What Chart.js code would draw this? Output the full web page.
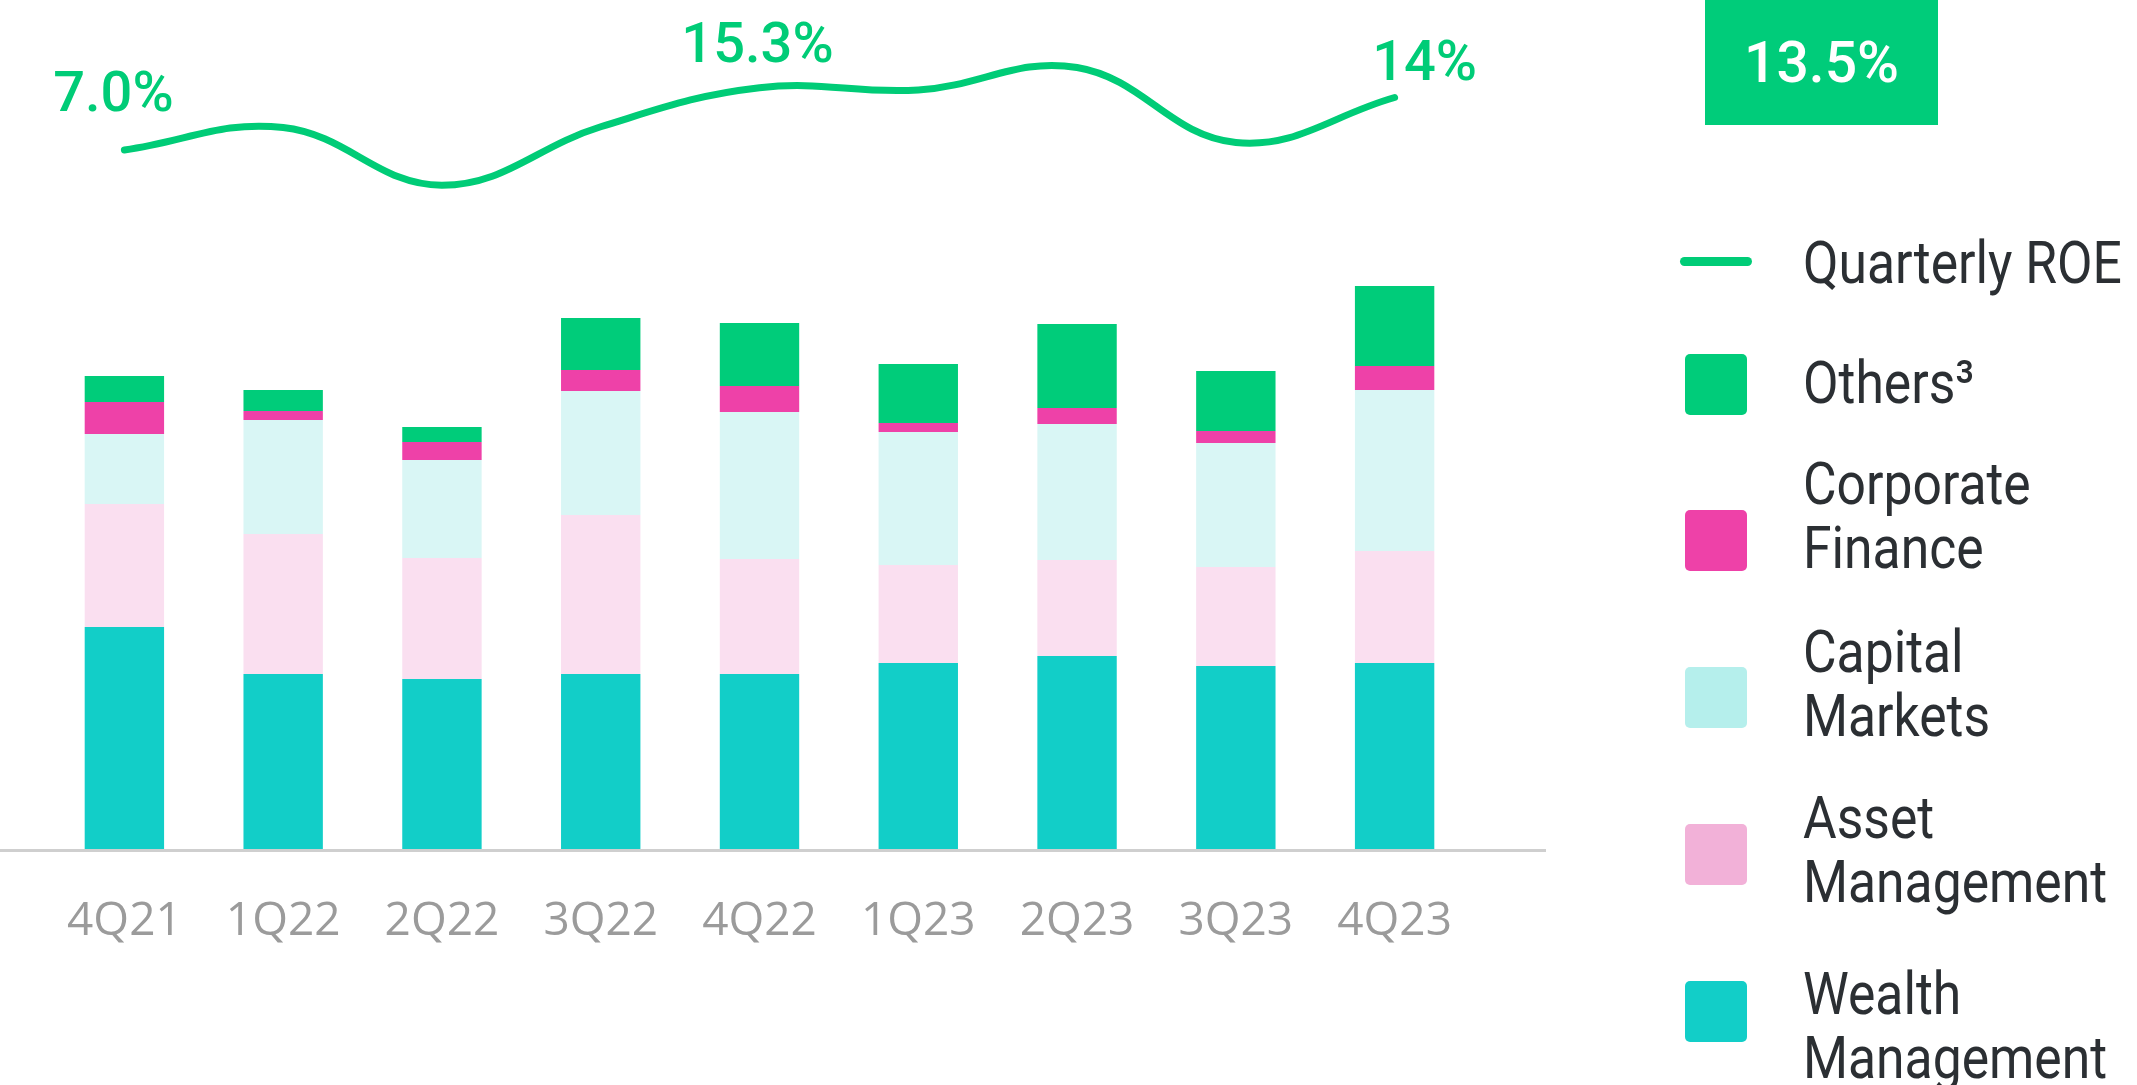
<!DOCTYPE html>
<html>
<head>
  <title>Revenue mix and quarterly ROE</title>
  <script src="https://cdn.jsdelivr.net/npm/chart.js"></script>
  <style>
    html, body { margin: 0; padding: 0; background: #ffffff; }
    #page { position: relative; width: 2137px; height: 1085px; overflow: hidden; }
    #chartBox { position: absolute; left: 0; top: 0; width: 1560px; height: 1085px; }
    #roeBox {
      position: absolute; left: 1705px; top: 0; width: 233px; height: 125px;
      background: #00cc7a; color: #ffffff;
      font: 500 57px Roboto, sans-serif;
      display: flex; align-items: center; justify-content: center;
    }
    .swatch { position: absolute; left: 1685px; width: 62px; height: 61px; border-radius: 5px; }
    .roe-line { position: absolute; left: 1680px; width: 72px; height: 9px; border-radius: 5px; background: #00cc77; }
    .legend-text {
      position: absolute; left: 1803px;
      font: 60px Roboto, sans-serif;
      line-height: 64px; color: #2b2f33; white-space: nowrap;
      transform: scaleX(0.86); transform-origin: left top;
    }
  </style>
</head>
<body>
  <div id="page">
    <div id="chartBox"><canvas id="mixChart"></canvas></div>
    <div id="roeBox">13.5%</div>

    <div class="roe-line" style="top:257px"></div>
    <div class="legend-text" style="top:231px">Quarterly ROE</div>

    <div class="swatch" style="top:354px; background:#00cc7a"></div>
    <div class="legend-text" style="top:351px">Others³</div>

    <div class="swatch" style="top:510px; background:#ee41a8"></div>
    <div class="legend-text" style="top:452px">Corporate<br>Finance</div>

    <div class="swatch" style="top:667px; background:#b5efec"></div>
    <div class="legend-text" style="top:620px">Capital<br>Markets</div>

    <div class="swatch" style="top:824px; background:#f2b1d8"></div>
    <div class="legend-text" style="top:786px">Asset<br>Management</div>

    <div class="swatch" style="top:981px; background:#12cec8"></div>
    <div class="legend-text" style="top:962px">Wealth<br>Management</div>
  </div>

  <script>
    // Values (bar units are relative, no axis shown)
    const quarters = ['4Q21', '1Q22', '2Q22', '3Q22', '4Q22', '1Q23', '2Q23', '3Q23', '4Q23'];
    const wealthMgmt = [222, 175, 170, 175, 175, 186, 193, 183, 186];
    const assetMgmt = [123, 140, 121, 159, 115, 98, 96, 99, 112];
    const capitalMarkets = [70, 114, 98, 124, 147, 133, 136, 124, 161];
    const corporateFinance = [32, 9, 18, 21, 26, 9, 16, 12, 24];
    const others = [26, 21, 15, 52, 63, 59, 84, 60, 80];
    const quarterlyRoe = [7.0, 10.0, 2.3, 10.1, 15.3, 15.0, 18.0, 8.0, 14.0];
    const roeLabels = ['7.0%', '', '', '', '15.3%', '', '', '', '14%'];

    // label nudges (dx, lift) for the three printed ROE values
    const roeLabelShift = { 0: [-11, 39], 4: [-2, 26], 8: [30, 18] };

    // grey base line that runs a bit past the last bar
    const baselinePlugin = {
      id: 'baseline',
      beforeDatasetsDraw(chart) {
        const { ctx, chartArea } = chart;
        ctx.save();
        ctx.strokeStyle = '#cfcfcf';
        ctx.lineWidth = 3;
        ctx.beginPath();
        ctx.moveTo(0, chartArea.bottom + 1.5);
        ctx.lineTo(chartArea.right + 72, chartArea.bottom + 1.5);
        ctx.stroke();
        ctx.restore();
      }
    };

    const roeLabelPlugin = {
      id: 'roeLabels',
      afterDatasetsDraw(chart) {
        const { ctx } = chart;
        const meta = chart.getDatasetMeta(5);
        ctx.save();
        ctx.font = '500 56px Roboto, sans-serif';
        ctx.fillStyle = '#00cc77';
        ctx.textAlign = 'center';
        ctx.textBaseline = 'alphabetic';
        roeLabels.forEach((txt, i) => {
          if (!txt) return;
          const pt = meta.data[i];
          const shift = roeLabelShift[i] || [0, 25];
          ctx.fillText(txt, pt.x + shift[0], pt.y - shift[1]);
        });
        ctx.restore();
      }
    };

    const ctx = document.getElementById('mixChart').getContext('2d');

    new Chart(ctx, {
      type: 'bar',
      data: {
        labels: quarters,
        datasets: [
          { label: 'Wealth Management', data: wealthMgmt, backgroundColor: '#12cec8', stack: 'rev', order: 2 },
          { label: 'Asset Management', data: assetMgmt, backgroundColor: '#fadff0', stack: 'rev', order: 2 },
          { label: 'Capital Markets', data: capitalMarkets, backgroundColor: '#d9f6f5', stack: 'rev', order: 2 },
          { label: 'Corporate Finance', data: corporateFinance, backgroundColor: '#ee41a8', stack: 'rev', order: 2 },
          { label: 'Others', data: others, backgroundColor: '#00cc7a', stack: 'rev', order: 2 },
          {
            type: 'line',
            label: 'Quarterly ROE',
            data: quarterlyRoe,
            yAxisID: 'y2',
            borderColor: '#00cc77',
            borderWidth: 7,
            borderCapStyle: 'round',
            pointRadius: 0,
            tension: 0.4,
            fill: false,
            order: 1
          }
        ]
      },
      options: {
        responsive: true,
        maintainAspectRatio: false,
        animation: false,
        layout: { padding: { left: 45, right: 86, top: 0, bottom: 0 } },
        datasets: { bar: { categoryPercentage: 1, barPercentage: 0.5, borderWidth: 0 } },
        plugins: { legend: { display: false }, tooltip: { enabled: false } },
        scales: {
          x: {
            stacked: true,
            grid: { display: false, drawTicks: false },
            border: { display: false },
            ticks: {
              color: '#9b9b9b',
              padding: 45,
              font: { family: 'Open Sans', size: 46 }
            },
            afterFit(scale) { scale.height = 236; }
          },
          y: { stacked: true, display: false, min: 0, max: 849 },
          y2: { display: false, min: -86.2, max: 27 }
        }
      },
      plugins: [baselinePlugin, roeLabelPlugin]
    });
  </script>
</body>
</html>
